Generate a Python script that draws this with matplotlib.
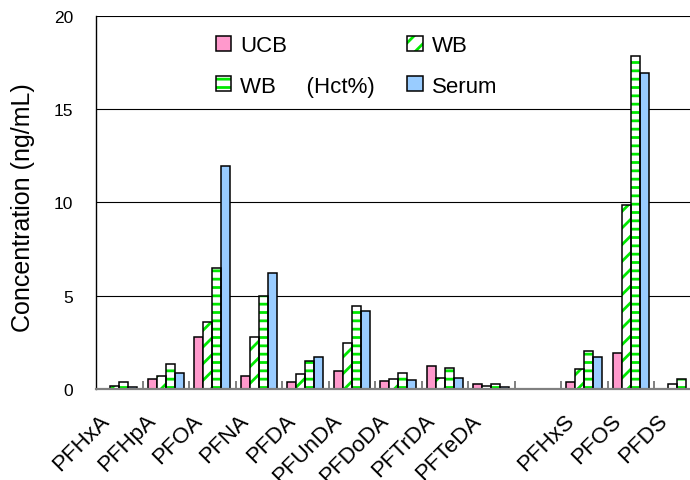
import matplotlib
matplotlib.use("Agg")
import matplotlib.pyplot as plt
import numpy as np
from matplotlib.transforms import ScaledTranslation
from matplotlib.legend_handler import HandlerTuple

plt.rcParams['font.family'] = ['Liberation Sans', 'DejaVu Sans']
plt.rcParams['hatch.linewidth'] = 2.0

# ---- data ----
categories = ['PFHxA', 'PFHpA', 'PFOA', 'PFNA', 'PFDA', 'PFUnDA', 'PFDoDA',
              'PFTrDA', 'PFTeDA', 'PFHxS', 'PFOS', 'PFDS']
ucb    = [0.0, 0.54, 2.80, 0.70, 0.36, 0.97, 0.45, 1.22, 0.27, 0.37, 1.93, 0.0]
wb     = [0.18, 0.70, 3.61, 2.80, 0.80, 2.45, 0.54, 0.59, 0.18, 1.07, 9.87, 0.27]
wb_hct = [0.39, 1.32, 6.47, 4.97, 1.48, 4.43, 0.87, 1.14, 0.27, 2.02, 17.87, 0.54]
serum  = [0.10, 0.87, 11.96, 6.20, 1.73, 4.20, 0.50, 0.59, 0.10, 1.73, 16.93, 0.0]
yticks = [0, 5, 10, 15, 20]

# ---- layout ----
W, H = 690, 481
fig = plt.figure(figsize=(W / 100, H / 100), dpi=100)
x0, x1, ybot, ytop = 96, 700.5, 390, 17
ax = fig.add_axes([x0 / W, 1 - ybot / H, (x1 - x0) / W, (ybot - ytop) / H])

pos = np.r_[np.arange(9), np.arange(10, 13)]
bw = 0.195
green = '#00e800'
pink = '#ff99cc'
blue = '#99ccff'

b_ucb = ax.bar(pos - 1.5 * bw, ucb, bw, color=pink, edgecolor='black', linewidth=1.1, zorder=3)
b_wb_h = ax.bar(pos - 0.5 * bw, wb, bw, color='white', edgecolor=green, linewidth=0, hatch='//', zorder=3)
b_wb_o = ax.bar(pos - 0.5 * bw, wb, bw, fill=False, edgecolor='black', linewidth=1.1, zorder=4)
b_hct_h = ax.bar(pos + 0.5 * bw, wb_hct, bw, color='white', edgecolor=green, linewidth=0, hatch='--', zorder=3)
b_hct_o = ax.bar(pos + 0.5 * bw, wb_hct, bw, fill=False, edgecolor='black', linewidth=1.1, zorder=4)
b_ser = ax.bar(pos + 1.5 * bw, serum, bw, color=blue, edgecolor='black', linewidth=1.1, zorder=3)

ax.set_xlim(-0.5, 12.5)
ax.set_ylim(0, 20)
ax.set_yticks(yticks)
ax.yaxis.grid(True, color='black', linewidth=0.8)
ax.set_axisbelow(True)
ax.tick_params(axis='y', length=0, pad=16.5, labelsize=12.5)

ax.set_xticks(pos)
ax.set_xticklabels(categories, fontsize=16, rotation=45, ha='right', va='center',
                   rotation_mode='anchor')
ax.tick_params(axis='x', which='major', length=0, pad=0)
ax.set_xticks(np.arange(0.5, 12.5, 1), minor=True)
ax.tick_params(axis='x', which='minor', direction='in', length=5.5, width=1.4, color='#808080')
off = ScaledTranslation(-13 / 100, -28 / 100, fig.dpi_scale_trans)
for lab in ax.get_xticklabels():
    lab.set_transform(lab.get_transform() + off)

for s in ['top', 'right']:
    ax.spines[s].set_visible(False)
ax.spines['left'].set_linewidth(1.0)
ax.spines['bottom'].set_color('#808080')
ax.spines['bottom'].set_linewidth(1.6)
ax.spines['bottom'].set_zorder(5)

ax.set_ylabel('Concentration (ng/mL)', fontsize=18, va='center')
ax.yaxis.set_label_coords((23 - x0) / (x1 - x0), (ybot - 207.5) / (ybot - ytop))

handles = [b_ucb[0], (b_hct_h[0], b_hct_o[0]), (b_wb_h[0], b_wb_o[0]), b_ser[0]]
labels = ['UCB', 'WB     (Hct%)', 'WB', 'Serum']
fig.legend(handles, labels, loc='upper left', bbox_to_anchor=(216 / W, 1 - 36 / H),
           ncol=2, frameon=False, fontsize=16, borderpad=0, borderaxespad=0,
           handlelength=0.68, handleheight=0.68, handletextpad=0.42,
           labelspacing=0.88, columnspacing=1.45,
           handler_map={tuple: HandlerTuple(ndivide=1, pad=0)})

fig.savefig('out.png', dpi=100)
